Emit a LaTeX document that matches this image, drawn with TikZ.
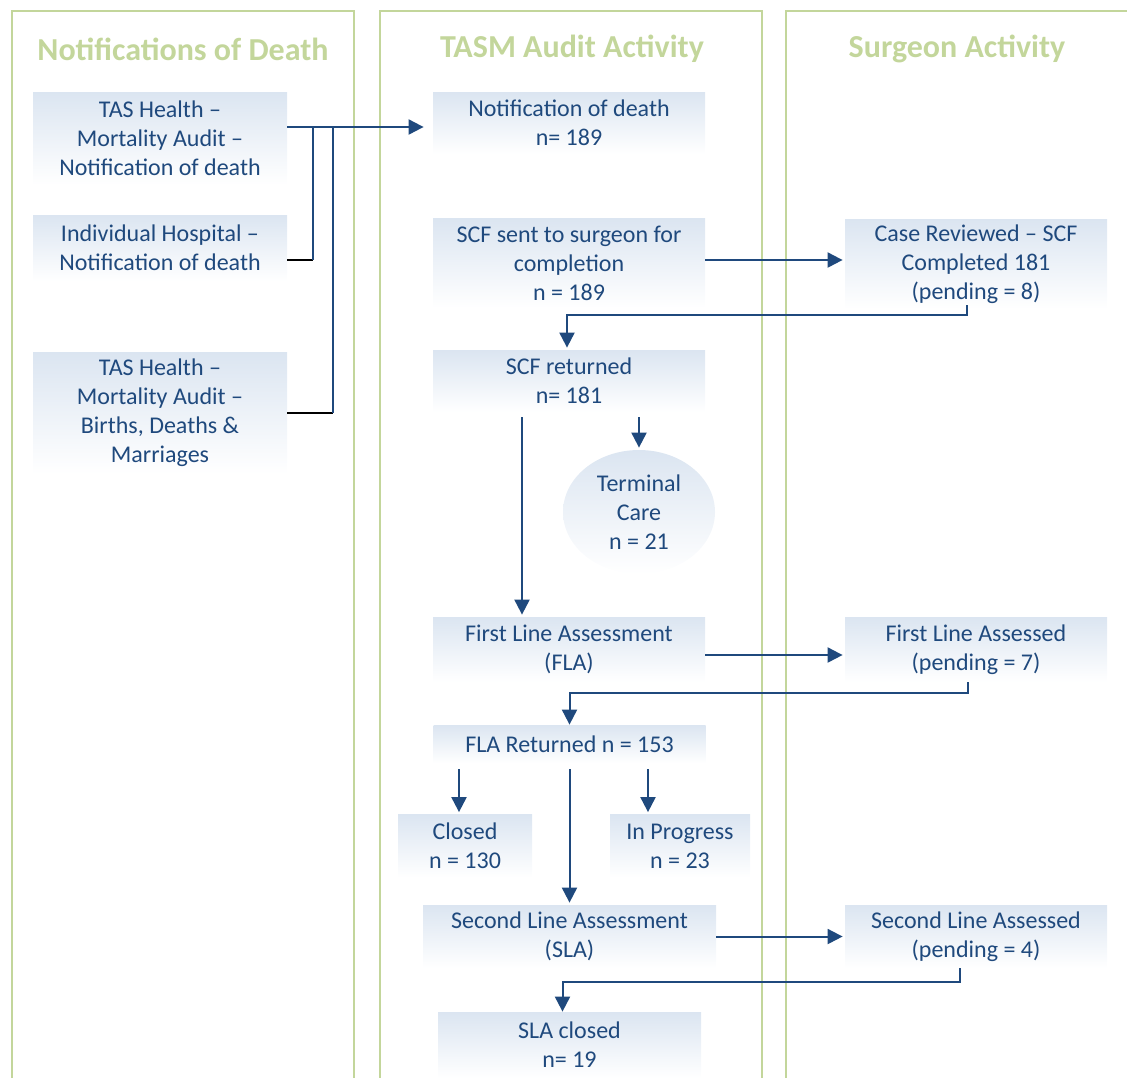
\documentclass[tikz,border=0pt]{standalone}
\usepackage{fontspec}
\setmainfont{Carlito}
\usetikzlibrary{arrows.meta,shapes.geometric}
\definecolor{lanegreen}{RGB}{195,214,155}
\definecolor{flowblue}{RGB}{31,73,125}
\definecolor{boxfill}{RGB}{219,229,241}
\tikzset{
  lane/.style={draw=lanegreen, line width=1.25pt},
  lanetitle/.style={text=lanegreen, font=\bfseries\fontsize{16}{19}\selectfont},
  box/.style={shading=axis, top color=boxfill, bottom color=white, text=flowblue,
    align=center, inner sep=0pt, font=\fontsize{12}{14.5}\selectfont},
  flow/.style={draw=flowblue, line width=1pt, -{Triangle[length=7.5pt,width=7.5pt]}},
  feed/.style={draw=flowblue, line width=1pt},
  stub/.style={draw=black, line width=1pt},
}

\begin{document}
\begin{tikzpicture}[x=0.5pt, y=-0.5pt]
    \useasboundingbox (0,0) rectangle (1127,1077);
    \clip (0,0) rectangle (1127,1077);
    % lanes
    \draw[lane] (12,1100) -- (12,11) -- (354,11) -- (354,1100);
    \draw[lane] (380,1100) -- (380,11) -- (762,11) -- (762,1100);
    \draw[lane] (786,1100) -- (786,11) -- (1150,11);
    \node[lanetitle] (deathtitle) at (183,49) {Notifications of Death};
    \node[lanetitle] (audittitle) at (572,49) {TASM Audit Activity};
    \node[lanetitle] (surgeontitle) at (957,49) {Surgeon Activity};
    % notifications
    \node[box, minimum width=127pt, minimum height=46.5pt] (tasaudit) at (160,138.5) {TAS Health --\\Mortality Audit --\\Notification of death};
    \node[box, minimum width=127pt, minimum height=33pt] (hospital) at (160,248) {Individual Hospital --\\Notification of death};
    \node[box, minimum width=127pt, minimum height=61pt] (bdm) at (160,413) {TAS Health --\\Mortality Audit --\\Births, Deaths \&\\Marriages};
    % audit activity
    \node[box, minimum width=136pt, minimum height=31pt] (notif) at (569,123) {Notification of death\\n= 189};
    \node[box, minimum width=136pt, minimum height=45pt] (scfsent) at (569,263) {SCF sent to surgeon for\\completion\\n = 189};
    \node[box, minimum width=136pt, minimum height=31pt] (scfret) at (569,381) {SCF returned\\n= 181};
    \node[box, ellipse, minimum width=76pt, minimum height=62pt] (terminal) at (639,512) {Terminal\\Care\\n = 21};
    \node[box, minimum width=136pt, minimum height=32.5pt] (fla) at (569,649.5) {First Line Assessment\\(FLA)};
    \node[box, minimum width=136pt, minimum height=19pt] (flaret) at (569.5,744) {FLA Returned n = 153};
    \node[box, minimum width=67pt, minimum height=31.5pt] (closed) at (465,846) {Closed\\n = 130};
    \node[box, minimum width=70pt, minimum height=31.5pt] (inprog) at (680,846) {In Progress\\n = 23};
    \node[box, minimum width=146.5pt, minimum height=31.5pt] (sla) at (569.5,936.5) {Second Line Assessment\\(SLA)};
    \node[box, minimum width=131.5pt, minimum height=33pt] (slaclosed) at (569.5,1045) {SLA closed\\n= 19};
    % surgeon activity
    \node[box, minimum width=131pt, minimum height=45pt] (reviewed) at (976,264) {Case Reviewed -- SCF\\Completed 181\\(pending = 8)};
    \node[box, minimum width=131pt, minimum height=32.5pt] (flad) at (976,649.5) {First Line Assessed\\(pending = 7)};
    \node[box, minimum width=131pt, minimum height=31.5pt] (slad) at (976,936.5) {Second Line Assessed\\(pending = 4)};
    % feeds into notification of death
    \coordinate (notifin) at ([yshift=-2pt]notif.west);
    \coordinate (bus1) at (313,127);
    \coordinate (bus2) at (333,127);
    \coordinate (hospout) at ([yshift=-6pt]hospital.east);
    \coordinate (bdmout) at ([yshift=0pt]bdm.east);
    \draw[stub] (hospout) -- (hospout -| bus1);
    \draw[feed] (hospout -| bus1) -- (bus1);
    \draw[stub] (bdmout) -- (bdmout -| bus2);
    \draw[feed] (bdmout -| bus2) -- (bus2);
    \draw[flow, shorten >=4.5pt] (tasaudit.east |- notifin) -- (notifin);
    % SCF loop
    \draw[flow, shorten >=1pt] ([yshift=1.5pt]scfsent.east) -- ([yshift=2pt]reviewed.west);
    \draw[flow] ([xshift=-4.5pt,yshift=2pt]reviewed.south) -- ++(0,10) -| ([xshift=-1pt,yshift=1pt]scfret.north);
    \coordinate (scfleft) at ([xshift=-23.5pt]scfret.south);
    \draw[flow, shorten <=2.5pt, shorten >=1pt] (scfleft) -- (scfleft |- fla.north);
    \draw[flow, shorten <=2.5pt, shorten >=1pt] (scfret.south -| terminal.north) -- (terminal.north);
    % FLA loop
    \draw[flow, shorten >=1pt] ([yshift=-2.75pt]fla.east) -- ([yshift=-2.75pt]flad.west);
    \draw[flow] ([xshift=-4pt]flad.south) -- ++(0,11) -| (flaret.north);
    \coordinate (closedin) at ([xshift=-3pt]closed.north);
    \coordinate (progin) at ([xshift=-16pt]inprog.north);
    \draw[flow, shorten <=3pt, shorten >=1pt] (closedin |- flaret.south) -- (closedin);
    \draw[flow, shorten <=3pt, shorten >=1pt] (progin |- flaret.south) -- (progin);
    \draw[flow, shorten <=3pt, shorten >=1pt] (flaret.south) -- (sla.north);
    % SLA loop
    \draw[flow, shorten >=1pt] (sla.east) -- (slad.west);
    \draw[flow] ([xshift=-8pt]slad.south) -- ++(0,14) -| ([xshift=-3.5pt]slaclosed.north);
\end{tikzpicture}
\end{document}
